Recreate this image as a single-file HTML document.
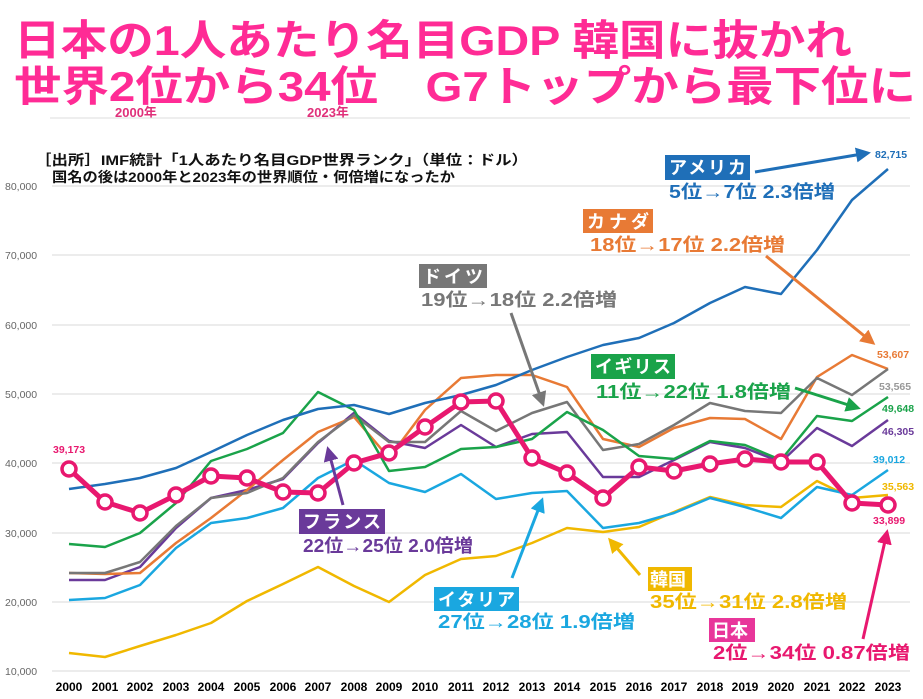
<!DOCTYPE html>
<html><head><meta charset="utf-8"><style>
body{margin:0;background:#fff}
svg{display:block;font-family:"Liberation Sans","Noto Sans CJK JP",sans-serif}
</style></head><body>
<svg width="923" height="699" viewBox="0 0 923 699">
<defs>
<marker id="ab" viewBox="0 0 10 10" refX="8" refY="5" markerWidth="5" markerHeight="5" orient="auto"><path d="M0,0L10,5L0,10z" fill="#1f6fb8"/></marker>
<marker id="ao" viewBox="0 0 10 10" refX="8" refY="5" markerWidth="5" markerHeight="5" orient="auto"><path d="M0,0L10,5L0,10z" fill="#e87a35"/></marker>
<marker id="ag" viewBox="0 0 10 10" refX="8" refY="5" markerWidth="5" markerHeight="5" orient="auto"><path d="M0,0L10,5L0,10z" fill="#777"/></marker>
<marker id="agr" viewBox="0 0 10 10" refX="8" refY="5" markerWidth="5" markerHeight="5" orient="auto"><path d="M0,0L10,5L0,10z" fill="#1aa34a"/></marker>
<marker id="ap" viewBox="0 0 10 10" refX="8" refY="5" markerWidth="5" markerHeight="5" orient="auto"><path d="M0,0L10,5L0,10z" fill="#6a3a9a"/></marker>
<marker id="ai" viewBox="0 0 10 10" refX="8" refY="5" markerWidth="5" markerHeight="5" orient="auto"><path d="M0,0L10,5L0,10z" fill="#1aa7e0"/></marker>
<marker id="ay" viewBox="0 0 10 10" refX="8" refY="5" markerWidth="5" markerHeight="5" orient="auto"><path d="M0,0L10,5L0,10z" fill="#f0b800"/></marker>
<marker id="aj" viewBox="0 0 10 10" refX="8" refY="5" markerWidth="5" markerHeight="5" orient="auto"><path d="M0,0L10,5L0,10z" fill="#e8186f"/></marker>
</defs>
<g fill="#ff2b95" font-weight="bold" font-size="42">
<text x="14" y="55" textLength="838" lengthAdjust="spacingAndGlyphs">日本の1人あたり名目GDP 韓国に抜かれ</text>
<text x="14" y="101" textLength="902" lengthAdjust="spacingAndGlyphs">世界2位から34位　G7トップから最下位に</text>
</g>
<g fill="#e0307a" font-weight="bold" font-size="13">
<text x="115" y="117">2000年</text><text x="307" y="117">2023年</text>
</g>
<line x1="50" y1="118" x2="910" y2="118" stroke="#ddd"/>
<g stroke="#d9d9d9" stroke-width="1">
<line x1="52" y1="186" x2="910" y2="186"/><line x1="52" y1="255" x2="910" y2="255"/><line x1="52" y1="325" x2="910" y2="325"/><line x1="52" y1="394" x2="910" y2="394"/><line x1="52" y1="463" x2="910" y2="463"/><line x1="52" y1="533" x2="910" y2="533"/><line x1="52" y1="602" x2="910" y2="602"/><line x1="52" y1="671" x2="910" y2="671"/>
</g>
<g fill="#666" font-size="10.5">
<text x="5" y="190">80,000</text><text x="5" y="259">70,000</text><text x="5" y="329">60,000</text><text x="5" y="398">50,000</text><text x="5" y="467">40,000</text><text x="5" y="537">30,000</text><text x="5" y="606">20,000</text><text x="5" y="675">10,000</text>
</g>
<g fill="#000" font-size="12" font-weight="bold" text-anchor="middle">
<text x="69" y="691">2000</text><text x="105" y="691">2001</text><text x="140" y="691">2002</text><text x="176" y="691">2003</text><text x="211" y="691">2004</text><text x="247" y="691">2005</text><text x="283" y="691">2006</text><text x="318" y="691">2007</text><text x="354" y="691">2008</text><text x="389" y="691">2009</text><text x="425" y="691">2010</text><text x="461" y="691">2011</text><text x="496" y="691">2012</text><text x="532" y="691">2013</text><text x="567" y="691">2014</text><text x="603" y="691">2015</text><text x="639" y="691">2016</text><text x="674" y="691">2017</text><text x="710" y="691">2018</text><text x="745" y="691">2019</text><text x="781" y="691">2020</text><text x="817" y="691">2021</text><text x="852" y="691">2022</text><text x="888" y="691">2023</text>
</g>
<g font-size="14" font-weight="bold" fill="#111">
<text x="35" y="165" textLength="493" lengthAdjust="spacingAndGlyphs">［出所］IMF統計「1人あたり名目GDP世界ランク」（単位：ドル）</text>
<text x="52" y="182" textLength="403" lengthAdjust="spacingAndGlyphs">国名の後は2000年と2023年の世界順位・何倍増になったか</text>
</g>
<g fill="none" stroke-width="2.5" stroke-linejoin="round">
<polyline stroke="#f0b800" points="69,653 105,657 140,646 176,635 211,623 247,601 283,584 318,567 354,586 389,602 425,575 461,559 496,556 532,543 567,528 603,532 639,527 674,512 710,497 745,505 781,507 817,481 852,498 888,495"/>
<polyline stroke="#1aa7e0" points="69,600 105,598 140,585 176,548 211,523 247,518 283,508 318,478 354,460 389,483 425,492 461,474 496,499 532,493 567,491 603,528 639,523 674,513 710,498 745,507 781,518 817,487 852,495 888,470"/>
<polyline stroke="#6a3a9a" points="69,580 105,580 140,567 176,528 211,498 247,490 283,479 318,443 354,413 389,441 425,448 461,425 496,447 532,434 567,432 603,477 639,477 674,460 710,442 745,448 781,462 817,428 852,446 888,420"/>
<polyline stroke="#e87a35" points="69,573 105,574 140,573 176,543 211,518 247,490 283,460 318,432 354,417 389,458 425,410 461,378 496,375 532,375 567,387 603,439 639,447 674,428 710,418 745,419 781,439 817,377 852,355 888,369"/>
<polyline stroke="#777" points="69,573 105,573 140,562 176,526 211,498 247,493 283,478 318,442 354,415 389,442 425,442 461,411 496,431 532,413 567,402 603,450 639,444 674,425 710,403 745,411 781,413 817,378 852,395 888,369"/>
<polyline stroke="#1aa34a" points="69,544 105,547 140,533 176,503 211,461 247,449 283,433 318,392 354,410 389,471 425,467 461,449 496,447 532,439 567,412 603,430 639,456 674,459 710,441 745,445 781,460 817,416 852,421 888,397"/>
<polyline stroke="#1f6fb8" points="69,489 105,484 140,478 176,468 211,452 247,435 283,420 318,409 354,405 389,414 425,403 461,395 496,385 532,370 567,357 603,345 639,338 674,323 710,303 745,287 781,294 817,250 852,200 888,169"/>
<polyline stroke="#e8186f" stroke-width="5" points="69,469 105,502 140,513 176,495 211,476 247,478 283,492 318,493 354,463 389,453 425,427 461,402 496,401 532,458 567,473 603,498 639,467 674,471 710,464 745,459 781,462 817,462 852,503 888,505"/>
</g>
<g fill="#fff" stroke="#e8186f" stroke-width="3.5">
<circle cx="69" cy="469" r="7"/><circle cx="105" cy="502" r="7"/><circle cx="140" cy="513" r="7"/><circle cx="176" cy="495" r="7"/><circle cx="211" cy="476" r="7"/><circle cx="247" cy="478" r="7"/><circle cx="283" cy="492" r="7"/><circle cx="318" cy="493" r="7"/><circle cx="354" cy="463" r="7"/><circle cx="389" cy="453" r="7"/><circle cx="425" cy="427" r="7"/><circle cx="461" cy="402" r="7"/><circle cx="496" cy="401" r="7"/><circle cx="532" cy="458" r="7"/><circle cx="567" cy="473" r="7"/><circle cx="603" cy="498" r="7"/><circle cx="639" cy="467" r="7"/><circle cx="674" cy="471" r="7"/><circle cx="710" cy="464" r="7"/><circle cx="745" cy="459" r="7"/><circle cx="781" cy="462" r="7"/><circle cx="817" cy="462" r="7"/><circle cx="852" cy="503" r="7"/><circle cx="888" cy="505" r="7"/>
</g>
<g font-size="10.5" font-weight="bold">
<text x="875" y="158" fill="#1f6fb8">82,715</text>
<text x="877" y="358" fill="#e87a35">53,607</text>
<text x="879" y="390" fill="#999">53,565</text>
<text x="882" y="412" fill="#1aa34a">49,648</text>
<text x="882" y="435" fill="#6a3a9a">46,305</text>
<text x="873" y="463" fill="#1aa7e0">39,012</text>
<text x="882" y="490" fill="#f0b800">35,563</text>
<text x="873" y="524" fill="#e8186f">33,899</text>
<text x="53" y="453" fill="#e8186f">39,173</text>
</g>
<g stroke-width="3" fill="none">
<line x1="755" y1="172" x2="868" y2="153" stroke="#1f6fb8" marker-end="url(#ab)"/>
<line x1="766" y1="256" x2="873" y2="343" stroke="#e87a35" marker-end="url(#ao)"/>
<line x1="511" y1="313" x2="543" y2="404" stroke="#777" marker-end="url(#ag)"/>
<line x1="795" y1="388" x2="858" y2="408" stroke="#1aa34a" marker-end="url(#agr)"/>
<line x1="343" y1="505" x2="328" y2="449" stroke="#6a3a9a" marker-end="url(#ap)"/>
<line x1="512" y1="578" x2="542" y2="500" stroke="#1aa7e0" marker-end="url(#ai)"/>
<line x1="640" y1="575" x2="610" y2="540" stroke="#f0b800" marker-end="url(#ay)"/>
<line x1="863" y1="639" x2="887" y2="532" stroke="#e8186f" marker-end="url(#aj)"/>
</g>
<g font-size="18" font-weight="bold" lengthAdjust="spacingAndGlyphs">
<rect x="665" y="155" width="85" height="25" fill="#1f6fb8"/><text x="669" y="174" fill="#fff" textLength="77">アメリカ</text>
<text x="669" y="198" fill="#1f6fb8" textLength="166" lengthAdjust="spacingAndGlyphs">5位→7位 2.3倍増</text>
<rect x="583" y="209" width="70" height="24" fill="#e87a35"/><text x="587" y="228" fill="#fff" textLength="62">カナダ</text>
<text x="590" y="251" fill="#e87a35" textLength="195" lengthAdjust="spacingAndGlyphs">18位→17位 2.2倍増</text>
<rect x="419" y="264" width="68" height="24" fill="#777"/><text x="423" y="283" fill="#fff" textLength="60">ドイツ</text>
<text x="421" y="306" fill="#777" textLength="196" lengthAdjust="spacingAndGlyphs">19位→18位 2.2倍増</text>
<rect x="591" y="354" width="84" height="25" fill="#1aa34a"/><text x="595" y="373" fill="#fff" textLength="76">イギリス</text>
<text x="596" y="398" fill="#1aa34a" textLength="195" lengthAdjust="spacingAndGlyphs">11位→22位 1.8倍増</text>
<rect x="299" y="509" width="86" height="25" fill="#6a3a9a"/><text x="303" y="528" fill="#fff" textLength="78">フランス</text>
<text x="303" y="552" fill="#6a3a9a" textLength="170" lengthAdjust="spacingAndGlyphs">22位→25位 2.0倍増</text>
<rect x="434" y="587" width="85" height="24" fill="#1aa7e0"/><text x="438" y="606" fill="#fff" textLength="77">イタリア</text>
<text x="438" y="628" fill="#1aa7e0" textLength="197" lengthAdjust="spacingAndGlyphs">27位→28位 1.9倍増</text>
<rect x="648" y="567" width="44" height="24" fill="#f0b800"/><text x="650" y="586" fill="#fff">韓国</text>
<text x="650" y="608" fill="#f0b800" textLength="197" lengthAdjust="spacingAndGlyphs">35位→31位 2.8倍増</text>
<rect x="709" y="618" width="46" height="24" fill="#e8369a"/><text x="712" y="637" fill="#fff">日本</text>
<text x="713" y="659" fill="#e8186f" textLength="197" lengthAdjust="spacingAndGlyphs">2位→34位 0.87倍増</text>
</g>
</svg>
</body></html>
